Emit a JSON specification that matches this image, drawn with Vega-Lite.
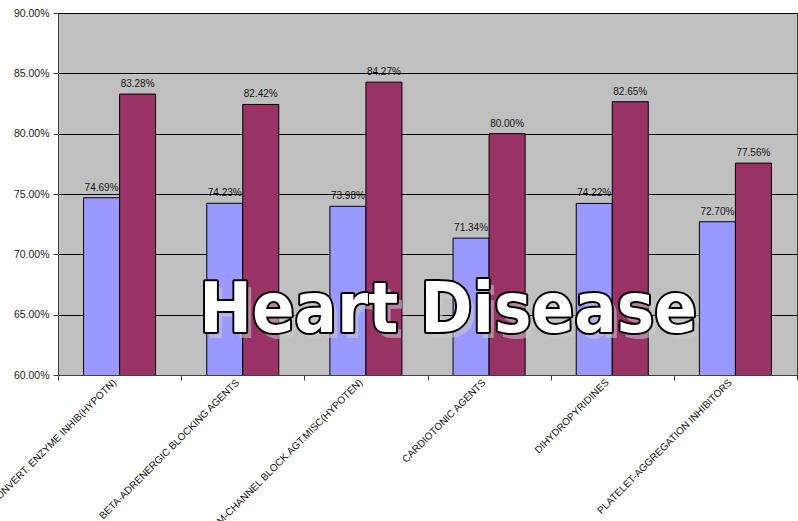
{
  "$schema": "https://vega.github.io/schema/vega-lite/v6.json",
  "width": 739,
  "height": 362,
  "autosize": {"type": "none"},
  "padding": {"left": 58, "top": 13, "right": 1, "bottom": 146},
  "background": "#ffffff",
  "config": {
    "view": {"fill": "#c0c0c0", "stroke": "#404040", "strokeWidth": 1},
    "font": "Liberation Sans",
    "axis": {"labelFont": "Liberation Sans", "labelColor": "#222222", "domainColor": "#404040", "tickColor": "#404040"}
  },
  "datasets": {
    "rates": [
      {"drug": "ANGIOTENSIN-CONVERT. ENZYME INHIB(HYPOTN)", "series": "Series1", "value": 0.7469},
      {"drug": "ANGIOTENSIN-CONVERT. ENZYME INHIB(HYPOTN)", "series": "Series2", "value": 0.8328},
      {"drug": "BETA-ADRENERGIC BLOCKING AGENTS", "series": "Series1", "value": 0.7423},
      {"drug": "BETA-ADRENERGIC BLOCKING AGENTS", "series": "Series2", "value": 0.8242},
      {"drug": "CALCIUM-CHANNEL BLOCK.AGT.MISC(HYPOTEN)", "series": "Series1", "value": 0.7398},
      {"drug": "CALCIUM-CHANNEL BLOCK.AGT.MISC(HYPOTEN)", "series": "Series2", "value": 0.8427},
      {"drug": "CARDIOTONIC AGENTS", "series": "Series1", "value": 0.7134},
      {"drug": "CARDIOTONIC AGENTS", "series": "Series2", "value": 0.8000},
      {"drug": "DIHYDROPYRIDINES", "series": "Series1", "value": 0.7422},
      {"drug": "DIHYDROPYRIDINES", "series": "Series2", "value": 0.8265},
      {"drug": "PLATELET-AGGREGATION INHIBITORS", "series": "Series1", "value": 0.7270},
      {"drug": "PLATELET-AGGREGATION INHIBITORS", "series": "Series2", "value": 0.7756}
    ],
    "caption": [{"caption": "Heart Disease"}]
  },
  "layer": [
    {
      "data": {"name": "rates"},
      "mark": {"type": "bar", "stroke": "#000000", "strokeWidth": 1, "clip": true},
      "encoding": {
        "x": {
          "field": "drug", "type": "nominal", "sort": null,
          "scale": {"paddingInner": 0, "paddingOuter": 0},
          "axis": {
            "title": null, "labelAngle": -45, "labelFontSize": 10, "labelColor": "#111111",
            "labelPadding": -3, "labelOffset": -9, "tickBand": "extent", "tickSize": 5, "labelLimit": 400, "labelOverlap": false
          }
        },
        "xOffset": {"field": "series", "type": "nominal", "scale": {"paddingInner": 0, "paddingOuter": 0.71}},
        "y": {
          "field": "value", "type": "quantitative",
          "scale": {"domain": [0.6, 0.9], "zero": false, "nice": false},
          "axis": {
            "title": null, "format": ".2%", "values": [0.6, 0.65, 0.7, 0.75, 0.8, 0.85, 0.9],
            "grid": true, "gridColor": "#000000", "gridWidth": 1, "gridOpacity": 1,
            "labelFontSize": 10.5, "tickSize": 5, "labelPadding": 4
          }
        },
        "color": {
          "field": "series", "type": "nominal", "legend": null,
          "scale": {"domain": ["Series1", "Series2"], "range": ["#9999ff", "#993366"]}
        }
      }
    },
    {
      "data": {"name": "rates"},
      "mark": {"type": "text", "baseline": "bottom", "dy": -5, "fontSize": 10, "color": "#111111"},
      "encoding": {
        "x": {"field": "drug", "type": "nominal", "sort": null},
        "xOffset": {"field": "series", "type": "nominal"},
        "y": {"field": "value", "type": "quantitative"},
        "text": {"field": "value", "type": "quantitative", "format": ".2%"}
      }
    },
    {
      "data": {"name": "caption"},
      "mark": {"type": "text", "font": "DejaVu Sans Condensed", "fontWeight": "bold", "fontSize": 70, "align": "center", "baseline": "middle", "fill": "#cccccc", "opacity": 0.55, "dx": -36, "dy": 11},
      "encoding": {
        "x": {"datum": "CARDIOTONIC AGENTS"},
        "y": {"datum": 0.657},
        "text": {"field": "caption"}
      }
    },
    {
      "data": {"name": "caption"},
      "mark": {"type": "text", "font": "DejaVu Sans Condensed", "fontWeight": "bold", "fontSize": 70, "align": "center", "baseline": "middle", "fill": "#ffffff", "stroke": "#000000", "strokeWidth": 4, "strokeJoin": "round", "dx": -41, "dy": 5},
      "encoding": {
        "x": {"datum": "CARDIOTONIC AGENTS"},
        "y": {"datum": 0.657},
        "text": {"field": "caption"}
      }
    },
    {
      "data": {"name": "caption"},
      "mark": {"type": "text", "font": "DejaVu Sans Condensed", "fontWeight": "bold", "fontSize": 70, "align": "center", "baseline": "middle", "fill": "#ffffff", "dx": -41, "dy": 5},
      "encoding": {
        "x": {"datum": "CARDIOTONIC AGENTS"},
        "y": {"datum": 0.657},
        "text": {"field": "caption"}
      }
    }
  ]
}
